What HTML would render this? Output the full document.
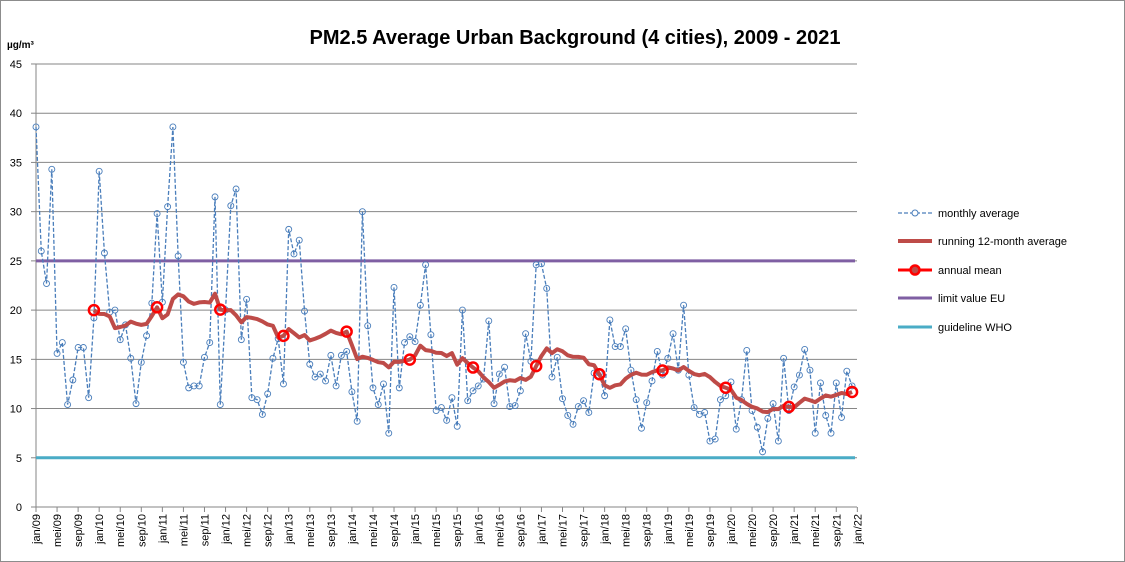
<!DOCTYPE html>
<html><head><meta charset="utf-8"><style>
body{margin:0;background:#fff}
svg{display:block;font-family:"Liberation Sans",Calibri,sans-serif}
</style></head><body>
<svg id="s" width="1125" height="562" xmlns="http://www.w3.org/2000/svg">
<rect x="0.5" y="0.5" width="1124" height="561" fill="#fff" stroke="#8c8c8c"/>
<text x="575" y="44" text-anchor="middle" font-size="20" font-weight="bold" fill="#000">PM2.5 Average Urban Background (4 cities), 2009 - 2021</text>
<text x="7" y="48" font-size="10" font-weight="bold">µg/m³</text>
<g id="g"></g>
</svg>
<script>
const d=[38.6,26,22.7,34.3,15.6,16.7,10.4,12.9,16.2,16.2,11.1,19.2,
34.1,25.8,19.8,20.0,17.0,18.5,15.1,10.5,14.7,17.4,20.7,29.8,
20.8,30.5,38.6,25.5,14.7,12.1,12.3,12.3,15.2,16.7,31.5,10.4,
20.0,30.6,32.3,17.0,21.1,11.1,10.9,9.4,11.5,15.1,17.1,12.5,
28.2,25.7,27.1,19.9,14.5,13.2,13.5,12.8,15.4,12.3,15.4,15.8,
11.7,8.7,30.0,18.4,12.1,10.4,12.5,7.5,22.3,12.1,16.7,17.3,
16.8,20.5,24.6,17.5,9.8,10.1,8.8,11.1,8.2,20.0,10.8,11.8,
12.3,13.0,18.9,10.5,13.5,14.2,10.2,10.3,11.8,17.6,14.8,24.6,
24.7,22.2,13.2,15.2,11.0,9.3,8.4,10.2,10.8,9.6,13.6,13.6,
11.3,19.0,16.3,16.3,18.1,13.9,10.9,8.0,10.6,12.8,15.8,13.4,
15.1,17.6,13.9,20.5,13.4,10.1,9.4,9.6,6.7,6.9,10.9,11.3,
12.7,7.9,10.9,15.9,9.8,8.1,5.6,9.0,10.5,6.7,15.1,9.8,
12.2,13.4,16.0,13.9,7.5,12.6,9.3,7.5,12.6,9.1,13.8,12.3];
const X=i=>36+i*5.265, Y=v=>507-v*9.845;
let h='';
for(let v=0;v<=45;v+=5){
 h+=`<line x1="36" x2="857" y1="${Y(v)}" y2="${Y(v)}" stroke="#868686" stroke-width="1"/>`;
 h+=`<line x1="31" x2="36" y1="${Y(v)}" y2="${Y(v)}" stroke="#868686"/>`;
 h+=`<text x="22" y="${Y(v)+4}" font-size="11" text-anchor="end">${v}</text>`;
}
h+=`<line x1="36" x2="36" y1="${Y(45)}" y2="507" stroke="#868686"/>`;
const m=['jan','mei','sep'];
for(let i=0;i<=156;i+=4){
 const x=X(i);
 h+=`<line x1="${x}" x2="${x}" y1="507" y2="512" stroke="#868686"/>`;
 const yr=String(9+Math.floor(i/12)).padStart(2,'0');
 h+=`<text transform="translate(${x+4},514) rotate(-90)" font-size="11" text-anchor="end">${m[(i%12)/4]}/${yr}</text>`;
}
h+=`<line x1="36" x2="855" y1="${Y(25)}" y2="${Y(25)}" stroke="#7f5fa3" stroke-width="3"/>`;
h+=`<line x1="36" x2="855" y1="${Y(5)}" y2="${Y(5)}" stroke="#4aacc6" stroke-width="3"/>`;
h+=`<polyline fill="none" stroke="#4a7ebb" stroke-width="1.3" stroke-dasharray="4,2" points="${d.map((v,i)=>X(i)+','+Y(v)).join(' ')}"/>`;
for(let i=0;i<d.length;i++)h+=`<circle cx="${X(i)}" cy="${Y(d[i])}" r="3" fill="none" stroke="#4a7ebb" stroke-width="0.9"/>`;
let r=[];for(let i=11;i<d.length;i++){let s=0;for(let k=i-11;k<=i;k++)s+=d[k];r.push([X(i),Y(s/12)]);}
h+=`<polyline fill="none" stroke="#be4b48" stroke-width="4" stroke-linejoin="round" points="${r.map(p=>p.join(',')).join(' ')}"/>`;
for(let j=0;j<r.length;j+=12)h+=`<circle cx="${r[j][0]}" cy="${r[j][1]}" r="5" fill="none" stroke="#ff0000" stroke-width="2.5"/>`;
const L=[[213,'monthly average'],[241,'running 12-month average'],[270,'annual mean'],[298,'limit value EU'],[327,'guideline WHO']];
h+=`<line x1="898" x2="932" y1="213" y2="213" stroke="#4a7ebb" stroke-width="1.3" stroke-dasharray="4,2"/><circle cx="915" cy="213" r="3" fill="#fff" stroke="#4a7ebb"/>`;
h+=`<line x1="898" x2="932" y1="241" y2="241" stroke="#be4b48" stroke-width="4"/>`;
h+=`<line x1="898" x2="932" y1="270" y2="270" stroke="#ff0000" stroke-width="3"/><circle cx="915" cy="270" r="4.5" fill="#be4b48" stroke="#ff0000" stroke-width="2.5"/>`;
h+=`<line x1="898" x2="932" y1="298" y2="298" stroke="#7f5fa3" stroke-width="3"/>`;
h+=`<line x1="898" x2="932" y1="327" y2="327" stroke="#4aacc6" stroke-width="3"/>`;
for(const [y,t] of L)h+=`<text x="938" y="${y+4}" font-size="11">${t}</text>`;
document.getElementById('g').innerHTML=h;
</script>
</body></html>
